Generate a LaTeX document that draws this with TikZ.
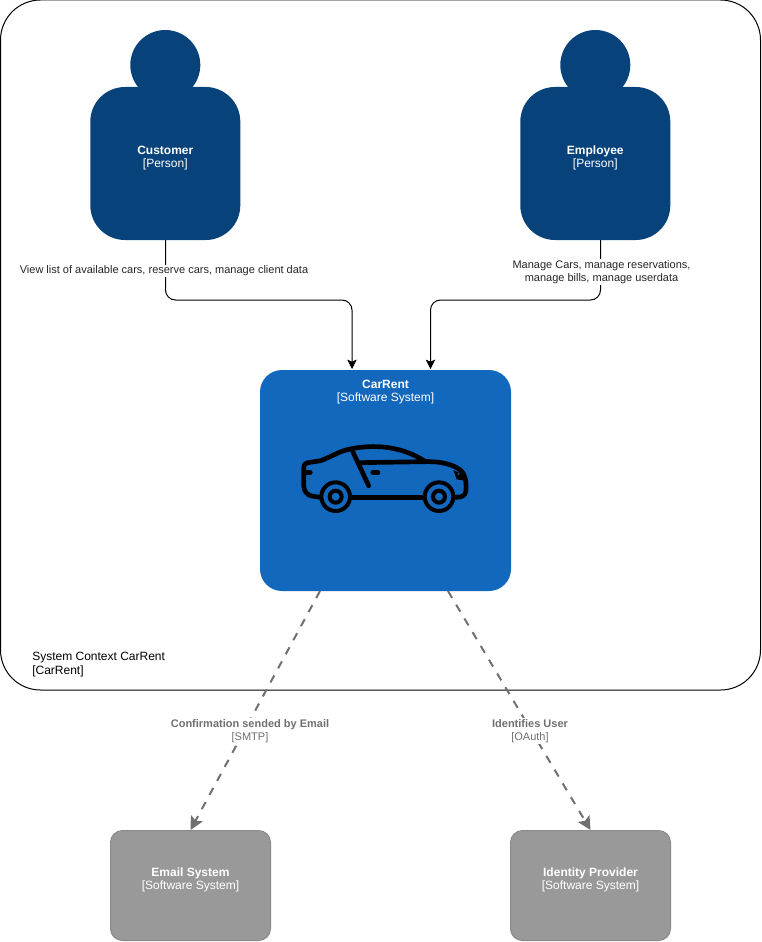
\documentclass[tikz,border=0pt]{standalone}
\usepackage{fontspec}
\setmainfont{Liberation Sans}
\usetikzlibrary{arrows.meta}
\definecolor{personblue}{HTML}{08427B}
\definecolor{sysblue}{HTML}{1168BD}
\definecolor{sysgrey}{HTML}{999999}
\definecolor{greyedge}{HTML}{8A8A8A}
\definecolor{dashgrey}{HTML}{707070}
\definecolor{labelgrey}{HTML}{707070}
\tikzset{
  personbody/.style={draw=none,fill=personblue,rounded corners=26pt,minimum width=112.5pt,minimum height=114.75pt,inner sep=0pt},
  personhead/.style={circle,draw=none,fill=personblue,minimum size=52.5pt,inner sep=0pt},
  bluebox/.style={draw=none,fill=sysblue,rounded corners=16.5pt,minimum width=188.25pt,minimum height=165.75pt,inner sep=0pt},
  greybox/.style={draw=greyedge,line width=0.75pt,fill=sysgrey,rounded corners=9pt,minimum width=120pt,minimum height=82.5pt,inner sep=0pt},
  boxtext/.style={text=white,font=\fontsize{9}{10}\selectfont,align=center,inner sep=0pt},
  linklabel/.style={text=black!85,font=\fontsize{8.25}{10}\selectfont,align=center,fill=white,inner sep=1pt},
  greylabel/.style={text=labelgrey,font=\fontsize{8.25}{10}\selectfont,align=center,fill=white,inner sep=1pt},
  solidlink/.style={draw=black,line width=0.75pt,rounded corners=7.5pt,-{Stealth[length=7pt,width=7pt,fill=black,inset=1.5pt]}},
  dashlink/.style={draw=dashgrey,line width=1.5pt,dash pattern=on 6pt off 6pt,-{Stealth[length=10pt,width=10pt,fill=dashgrey,inset=2pt]}},
  carline/.style={draw=black,line width=3.5pt,line cap=round,line join=round},
  wheelline/.style={draw=black,line width=3pt}
}
\begin{document}
\begin{tikzpicture}[x=0.75pt,y=-0.75pt]
\useasboundingbox (0,0) rectangle (762,942);
% boundary
\node[draw=black,line width=0.75pt,fill=white,rounded corners=30pt,minimum width=570pt,minimum height=517.5pt,inner sep=0pt] (boundary) at (380.5,345) {};
\node[anchor=north west,font=\fontsize{9}{10.5}\selectfont,align=left,inner sep=0pt] (boundlabel) at (32,652) {System Context CarRent\\{}[CarRent]};
% people
\node[personhead] (custhead) at (165.3,65) {};
\node[personbody] (cust) at (165.3,163.5) {};
\node[boxtext] (custtext) at (165.3,158) {\textbf{Customer}\\{}[Person]};
\node[personhead] (emphead) at (595.3,65) {};
\node[personbody] (emp) at (595.3,163.5) {};
\node[boxtext] (emptext) at (595.3,158) {\textbf{Employee}\\{}[Person]};
% systems
\node[bluebox] (car) at (385.5,480.5) {};
\node[boxtext] (cartext) at (385.5,392) {\textbf{CarRent}\\{}[Software System]};
\node[greybox] (email) at (190.5,885.5) {};
\node[boxtext,text=white] (emailtext) at (190.5,880) {\textbf{Email System}\\{}[Software System]};
\node[greybox] (idp) at (590.5,885.5) {};
\node[boxtext,text=white] (idptext) at (590.5,880) {\textbf{Identity Provider}\\{}[Software System]};
% connector ends
\coordinate (carA) at (352,369);
\coordinate (carB) at (430.5,369);
\coordinate (custS) at (165.5,240);
\coordinate (empS) at (600.5,240);
\coordinate (carC) at (320,591);
\coordinate (carD) at (448,591);
% solid connectors
\draw[solidlink] (custS) -- (custS |- 0,300) -- (carA |- 0,300) -- (carA);
\draw[solidlink] (empS) -- (empS |- 0,300) -- (carB |- 0,300) -- (carB);
\node[linklabel] (l1) at (164,271) {View list of available cars, reserve cars, manage client data};
\node[linklabel] (l2) at (601.5,272) {Manage Cars, manage reservations,\\manage bills, manage userdata};
% dashed connectors
\draw[dashlink] (carC) -- (email.north);
\draw[dashlink] (carD) -- (idp.north);
\node[greylabel] (l3) at (250,731) {\textbf{Confirmation sended by Email}\\{}[SMTP]};
\node[greylabel] (l4) at (530,731) {\textbf{Identifies User}\\{}[OAuth]};
% car icon
\begin{scope}[shift={(280,420)},x=0.25pt,y=-0.25pt]
\draw[carline] (120,232) -- (95,228) .. controls (80,225) and (71,212) .. (71,195) -- (71,145)
  .. controls (71,132) and (78,128) .. (90,127) -- (122,122)
  .. controls (150,112) and (180,92) .. (215,86)
  .. controls (300,70) and (375,85) .. (435,124)
  -- (470,126) .. controls (510,130) and (545,145) .. (552,165)
  .. controls (558,178) and (559,195) .. (558,212)
  .. controls (556,226) and (548,232) .. (528,232);
\draw[carline] (212,232) -- (432,232);
\draw[carline] (217,92) -- (266,197);
\draw[carline] (238,128) -- (435,125);
\draw[carline,line width=4pt] (279,157) -- (293,157);
\draw[carline,line width=4pt] (78,157) -- (90,157);
\fill[black] (520,150) -- (552,165) -- (556,182) -- (530,178) -- cycle;
\fill[sysblue] (536,162) circle (3);
\draw[wheelline] (167,230) circle (43);
\draw[wheelline] (167,230) circle (18);
\draw[wheelline] (477,230) circle (43);
\draw[wheelline] (477,230) circle (18);
\end{scope}
\end{tikzpicture}
\end{document}
